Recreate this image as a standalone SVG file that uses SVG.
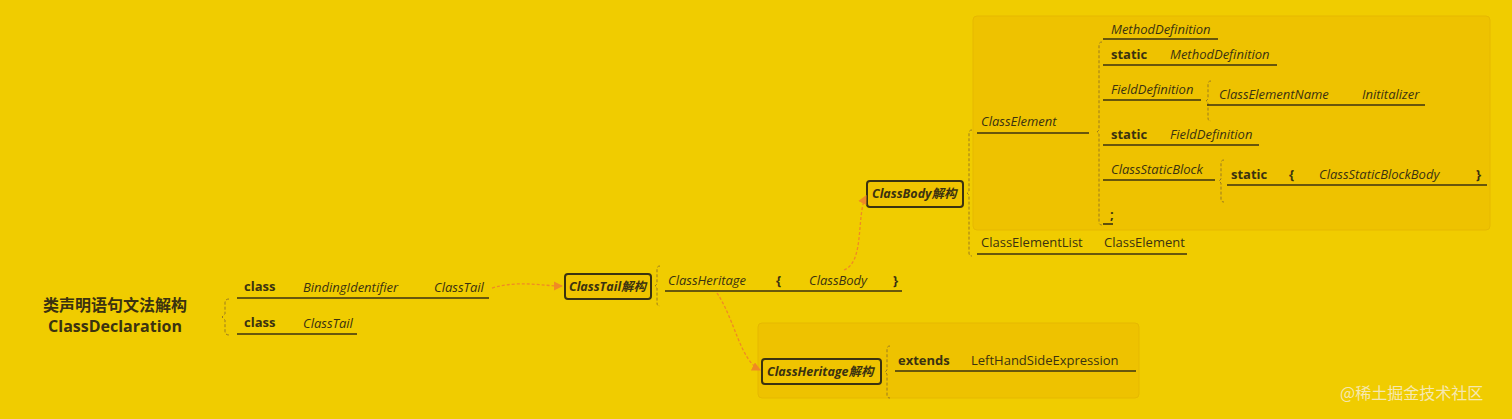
<svg xmlns="http://www.w3.org/2000/svg" width="1512" height="419" viewBox="0 0 1512 419">
<style>
text{font-family:"Open Sans","Noto Sans CJK SC",sans-serif;fill:#3b3210;font-size:13px}
.i{font-style:italic}.b{font-weight:bold}
.u{stroke:#3b3210;stroke-width:1.6;fill:none}
.br{stroke:#9a7a20;stroke-width:1;stroke-dasharray:3 2;fill:none}
.bx{fill:#f0c400;stroke:#3b3210;stroke-width:2;rx:3}
.bg{fill:#eec200;stroke:#e6b800;stroke-width:1}
.ar{stroke:#f08a24;stroke-width:1.3;stroke-dasharray:3 2;fill:none;marker-end:url(#m)}
</style>
<defs><marker id="m" viewBox="0 0 8 8" refX="7" refY="4" markerWidth="7" markerHeight="7" orient="auto"><path d="M0,0L8,4L0,8z" fill="#f08a24"/></marker></defs>
<rect width="1512" height="419" fill="#f0cc00"/>
<rect class="bg" x="973" y="16" width="517" height="214" rx="4"/>
<rect class="bg" x="758" y="323" width="381" height="75" rx="4"/>
<g id="root"><text x="115" y="311" text-anchor="middle" class="b" style="font-size:16px">类声明语句文法解构</text><text x="115" y="332" text-anchor="middle" class="b" style="font-size:16px">ClassDeclaration</text></g>
<g id="decl">
<path class="br" d="M229,299 q-4,0 -4,4 v11 l-3,3 l3,3 v11 q0,4 4,4"/>
<text x="244" y="291" class="b">class</text><text x="303" y="292" class="i">BindingIdentifier</text><text x="434" y="292" class="i">ClassTail</text><line class="u" x1="237" y1="298" x2="489" y2="298"/>
<text x="244" y="327" class="b">class</text><text x="303" y="328" class="i">ClassTail</text><line class="u" x1="237" y1="334" x2="357" y2="334"/>
</g>
<g id="classtail"><rect class="bx" x="565" y="274" width="86" height="25"/><text x="569" y="291" class="i b" style="font-size:12.5px">ClassTail解构</text>
<path class="br" d="M660,266 q-3,0 -3,3 v15 l-2,2 l2,2 v15 q0,3 3,3"/>
<text x="668" y="285" class="i">ClassHeritage</text><text x="776" y="285" class="b">{</text><text x="809" y="285" class="i">ClassBody</text><text x="893" y="285" class="b">}</text><line class="u" x1="665" y1="291" x2="902" y2="291"/></g>
<g id="classbody"><rect class="bx" x="867" y="181" width="96" height="26"/><text x="872" y="198" class="i b" style="font-size:12.5px">ClassBody解构</text>
<path class="br" d="M972,130 q-3,0 -3,3 v58 l-2,2 l2,2 v58 q0,3 3,3"/>
<text x="981" y="126" class="i">ClassElement</text><line class="u" x1="977" y1="133" x2="1089" y2="133"/>
<text x="981" y="247">ClassElementList</text><text x="1104" y="247">ClassElement</text><line class="u" x1="977" y1="254" x2="1187" y2="254"/>
<path class="br" d="M1102,42 q-3,0 -3,3 v85 l-2,2 l2,2 v88 q0,3 3,3"/>
<text x="1111" y="34" class="i">MethodDefinition</text><line class="u" x1="1103" y1="39" x2="1218" y2="39"/>
<text x="1111" y="59" class="b">static</text><text x="1170" y="59" class="i">MethodDefinition</text><line class="u" x1="1103" y1="65" x2="1277" y2="65"/>
<text x="1111" y="94" class="i">FieldDefinition</text><line class="u" x1="1103" y1="100" x2="1201" y2="100"/>
<path class="br" d="M1211,81 q-3,0 -3,3 v15 l-2,2 l2,2 v15 q0,3 3,3"/>
<text x="1219" y="99" class="i">ClassElementName</text><text x="1362" y="99" class="i">Inititalizer</text><line class="u" x1="1207" y1="105" x2="1425" y2="105"/>
<text x="1111" y="139" class="b">static</text><text x="1170" y="139" class="i">FieldDefinition</text><line class="u" x1="1103" y1="145" x2="1259" y2="145"/>
<text x="1111" y="174" class="i">ClassStaticBlock</text><line class="u" x1="1103" y1="180" x2="1215" y2="180"/>
<path class="br" d="M1224,160 q-3,0 -3,3 v16 l-2,2 l2,2 v16 q0,3 3,3"/>
<text x="1231" y="179" class="b">static</text><text x="1289" y="179" class="b">{</text><text x="1319" y="179" class="i">ClassStaticBlockBody</text><text x="1476" y="179" class="b">}</text><line class="u" x1="1227" y1="185" x2="1487" y2="185"/>
<text x="1110" y="219" class="b">;</text><line class="u" x1="1103" y1="224" x2="1113" y2="224"/>
</g>
<g id="heritage"><rect class="bx" x="762" y="359" width="119" height="25"/><text x="767" y="376" class="i b" style="font-size:12.5px">ClassHeritage解构</text>
<path class="br" d="M890,346 q-3,0 -3,3 v21 l-2,2 l2,2 v21 q0,3 3,3"/>
<text x="898" y="365" class="b">extends</text><text x="971" y="365">LeftHandSideExpression</text><line class="u" x1="895" y1="371" x2="1136" y2="371"/></g>
<g id="connectors">
<path class="ar" d="M492,288 C520,280 540,286 562,286"/>
<path class="ar" d="M844,270 C865,262 856,215 866,196"/>
<path class="ar" d="M717,293 C735,320 740,360 760,370"/>
</g>
<text x="1340" y="399" style="fill:#f6e8b0;font-size:16px;font-family:'Noto Sans CJK SC',sans-serif">@稀土掘金技术社区</text>
</svg>
